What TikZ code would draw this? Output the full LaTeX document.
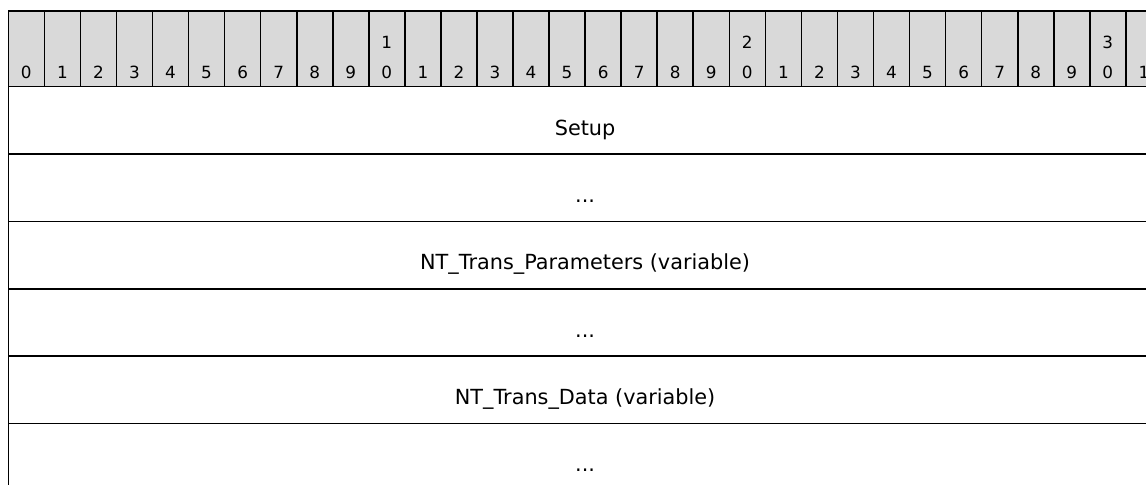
\documentclass[tikz,border=0pt]{standalone}
\usepackage{fontspec}
\setmainfont{DejaVu Sans}
\definecolor{rulergray}{HTML}{D9D9D9}
\begin{document}
\begin{tikzpicture}[x=0.75pt,y=-0.75pt,
  gridline/.style={draw=black,line width=1.2pt},
  bitnum/.style={inner sep=0pt,anchor=base,font=\fontsize{12.6pt}{14pt}\selectfont},
  fieldtext/.style={inner sep=0pt,anchor=base,font=\fontsize{15.6pt}{18pt}\selectfont}]
\useasboundingbox (0,0) rectangle (1146,485);
\clip (0,0) rectangle (1146,485);
\pgfmathsetmacro{\cw}{36.05}
\pgfmathsetmacro{\lx}{8.3}
\pgfmathsetmacro{\rh}{67.35}
% ruler
\fill[rulergray] (\lx,11.3) rectangle ({\lx+32*\cw},86.7);
\foreach \i in {0,...,31} {
  \draw[gridline] ({\lx+\i*\cw},11.3) rectangle ({\lx+(\i+1)*\cw},86.7);
  \pgfmathtruncatemacro{\u}{mod(\i,10)}
  \pgfmathtruncatemacro{\t}{floor(\i/10)}
  \node[bitnum] (u\i) at ({\lx+(\i+0.5)*\cw},78.3) {\u};
  \ifnum\i>9 \ifnum\u=0
    \node[bitnum] (t\i) at ({\lx+(\i+0.5)*\cw},49) {\t};
  \fi\fi
}
% rows
\draw[gridline] (\lx,86.7) -- (\lx,490);
\foreach \k in {1,...,5} {
  \draw[gridline] (\lx,{86.7+\k*\rh}) -- ({\lx+32*\cw},{86.7+\k*\rh});
}
\pgfmathsetmacro{\cx}{\lx+16*\cw}
\node[fieldtext] (f0) at (\cx,135) {Setup};
\node[fieldtext] (f1) at (\cx,{135+1*\rh}) {...};
\node[fieldtext] (f2) at (\cx,{135+2*\rh}) {NT\_Trans\_Parameters (variable)};
\node[fieldtext] (f3) at (\cx,{135+3*\rh}) {...};
\node[fieldtext] (f4) at (\cx,{135+4*\rh}) {NT\_Trans\_Data (variable)};
\node[fieldtext] (f5) at (\cx,{135+5*\rh}) {...};
\end{tikzpicture}
\end{document}
